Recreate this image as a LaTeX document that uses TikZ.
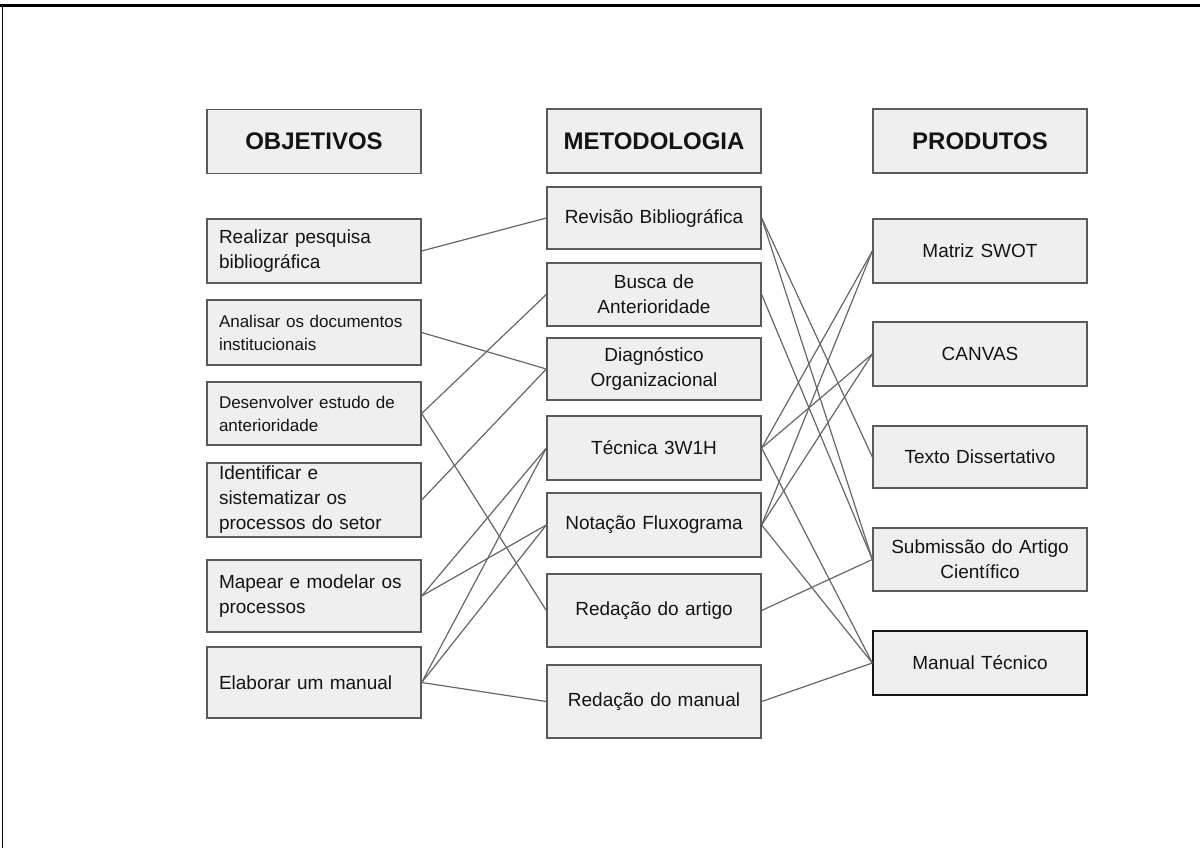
\documentclass[tikz,border=0pt]{standalone}
\usepackage{fontspec}
\setmainfont{Liberation Sans}
\definecolor{boxfill}{HTML}{EFEFEF}
\definecolor{boxline}{HTML}{5A5A5A}
\definecolor{wire}{HTML}{666666}
\definecolor{ink}{HTML}{141414}
\begin{document}
\begin{tikzpicture}[x=1pt,y=-1pt,
  box/.style={draw=boxline, line width=1.3pt, fill=boxfill, text=ink,
    minimum width=214pt, inner sep=0pt, font=\fontsize{19}{25}\selectfont},
  head/.style={box, minimum height=64pt, font=\bfseries\fontsize{24}{28}\selectfont},
  leftbox/.style={box, align=left, text width=190pt},
  smallleft/.style={leftbox, font=\fontsize{17}{23}\selectfont},
  midbox/.style={box, align=center, text width=200pt},
  wireline/.style={draw=wire, line width=1.2pt}]
\useasboundingbox (0,0) rectangle (1200,848);
% page frame: top and left edges only
\draw[line width=3pt] (0,5.5) -- (1200,5.5);
\draw[line width=1.6pt] (2.5,5.5) -- (2.5,848);

% column headings
\node[head] (obj)  at (314,141.5) {OBJETIVOS};
\node[head] (met)  at (654,141)   {METODOLOGIA};
\node[head] (prod) at (980,141)   {PRODUTOS};

% objectives
\node[leftbox, minimum height=64pt] (realizar) at (314,251)   {Realizar pesquisa\\bibliográfica};
\node[smallleft, minimum height=65pt] (analisar) at (314,332.5) {Analisar os documentos\\institucionais};
\node[smallleft, minimum height=63pt] (desenv) at (314,413.5) {Desenvolver estudo de\\anterioridade};
\node[leftbox, minimum height=74pt] (ident) at (314,500) {Identificar e\\sistematizar os\\processos do setor};
\node[leftbox, minimum height=72pt] (mapear) at (314,596) {Mapear e modelar os\\processos};
\node[leftbox, minimum height=71pt] (elab) at (314,682.5) {Elaborar um manual};

% methodology
\node[midbox, minimum height=62pt] (revisao) at (654,218)   {Revisão Bibliográfica};
\node[midbox, minimum height=63pt] (busca)   at (654,294.5) {Busca de\\Anterioridade};
\node[midbox, minimum height=62pt] (diag)    at (654,369)   {Diagnóstico\\Organizacional};
\node[midbox, minimum height=64pt] (tecnica) at (654,448)   {Técnica 3W1H};
\node[midbox, minimum height=64pt] (notacao) at (654,525)   {Notação Fluxograma};
\node[midbox, minimum height=73pt] (redart)  at (654,610.5) {Redação do artigo};
\node[midbox, minimum height=73pt] (redman)  at (654,701.5) {Redação do manual};

% products
\node[midbox, minimum height=64pt] (swot)   at (980,251)   {Matriz SWOT};
\node[midbox, minimum height=64pt] (canvas) at (980,354)   {CANVAS};
\node[midbox, minimum height=62pt] (texto)  at (980,457)   {Texto Dissertativo};
\node[midbox, minimum height=63pt] (sub)    at (980,559.5) {Submissão do Artigo\\Científico};
\node[midbox, minimum height=64pt, draw=ink] (manual) at (980,663) {Manual Técnico};

% objectives -> methodology
\path[wireline] (realizar.east) -- (revisao.west);
\path[wireline] (analisar.east) -- (diag.west);
\path[wireline] (desenv.east) -- (busca.west);
\path[wireline] (desenv.east) -- (redart.west);
\path[wireline] (ident.east) -- (diag.west);
\path[wireline] (mapear.east) -- (tecnica.west);
\path[wireline] (mapear.east) -- (notacao.west);
\path[wireline] (elab.east) -- (tecnica.west);
\path[wireline] (elab.east) -- (notacao.west);
\path[wireline] (elab.east) -- (redman.west);

% methodology -> products
\path[wireline] (revisao.east) -- (texto.west);
\path[wireline] (revisao.east) -- (sub.west);
\path[wireline] (busca.east) -- (sub.west);
\path[wireline] (tecnica.east) -- (swot.west);
\path[wireline] (tecnica.east) -- (canvas.west);
\path[wireline] (tecnica.east) -- (manual.west);
\path[wireline] (notacao.east) -- (swot.west);
\path[wireline] (notacao.east) -- (canvas.west);
\path[wireline] (notacao.east) -- (manual.west);
\path[wireline] (redart.east) -- (sub.west);
\path[wireline] (redman.east) -- (manual.west);
\end{tikzpicture}
\end{document}
